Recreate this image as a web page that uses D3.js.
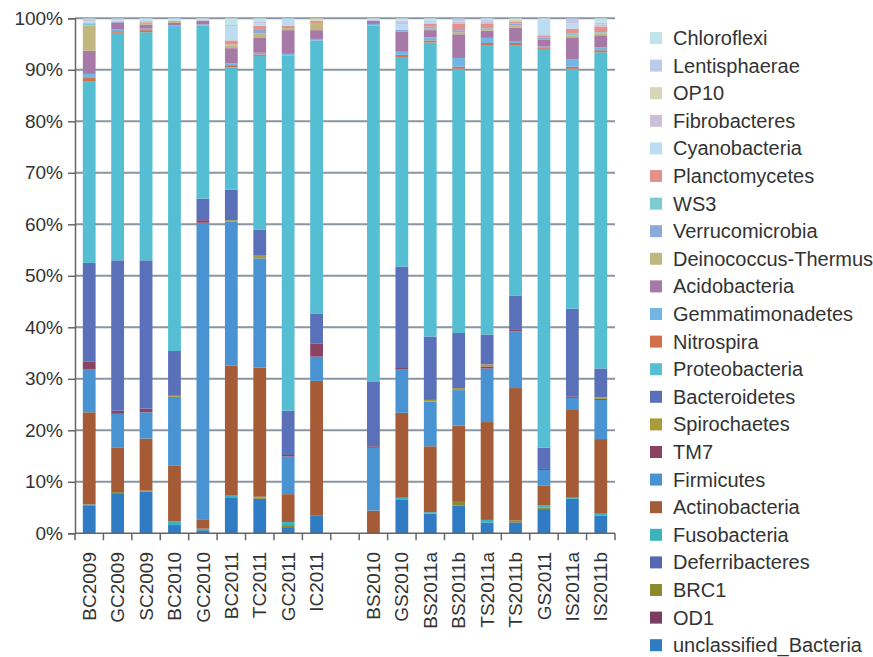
<!DOCTYPE html>
<html>
<head>
<meta charset="utf-8">
<script src="https://cdnjs.cloudflare.com/ajax/libs/d3/7.8.5/d3.min.js"></script>
<style>
body { margin: 0; background: #fff; }
text { font-family: Arial, "Liberation Sans", sans-serif; fill: #333; }
</style>
</head>
<body>
<div id="chart"></div>
<script>
var width = 873, height = 657;

// samples, two groups with an empty slot between them
var coastSamples = ["BC2009", "GC2009", "SC2009", "BC2010", "GC2010", "BC2011", "TC2011", "GC2011", "IC2011"];
var sedSamples = ["BS2010", "GS2010", "BS2011a", "BS2011b", "TS2011a", "TS2011b", "GS2011", "IS2011a", "IS2011b"];
var samples = coastSamples.concat(sedSamples);
var slots = coastSamples.concat([""], sedSamples);

var yTicks = [0, 0.1, 0.2, 0.3, 0.4, 0.5, 0.6, 0.7, 0.8, 0.9, 1];

// phyla, stacked bottom -> top
var phyla = ["unclassified_Bacteria", "OD1", "BRC1", "Deferribacteres", "Fusobacteria", "Actinobacteria",
  "Firmicutes", "TM7", "Spirochaetes", "Bacteroidetes", "Proteobacteria", "Nitrospira", "Gemmatimonadetes",
  "Acidobacteria", "Deinococcus-Thermus", "Verrucomicrobia", "WS3", "Planctomycetes", "Cyanobacteria",
  "Fibrobacteres", "OP10", "Lentisphaerae", "Chloroflexi"];
var colors = ["#2f7bc4", "#7a3b5c", "#8c8a2e", "#5468b4", "#3ab3bf", "#a55b36",
  "#4a93d3", "#8b4363", "#a99a3a", "#5a70b8", "#55bed2", "#d2704a", "#72b6e6",
  "#a779a6", "#bfb77f", "#8fa8dc", "#7ccbd3", "#e2928a", "#bcdcf2",
  "#cdbfd9", "#d8d6b8", "#bccbea", "#c0e4e8"];

// relative abundance (%) per sample
var unclassified = [5.3, 7.8, 8.1, 1.6, 0.6, 7.0, 6.7, 1.2, 3.4, 0, 6.6, 3.8, 5.4, 2.1, 2.1, 4.7, 6.7, 3.4];
var od1 = [0, 0, 0, 0, 0, 0, 0, 0, 0, 0, 0, 0, 0, 0, 0, 0, 0, 0];
var brc1 = [0, 0.2, 0.2, 0, 0, 0, 0.2, 0.4, 0, 0, 0, 0, 0.7, 0, 0.4, 0.3, 0, 0];
var deferribacteres = [0, 0, 0, 0, 0, 0, 0, 0, 0, 0, 0, 0, 0, 0, 0, 0, 0, 0];
var fusobacteria = [0.3, 0, 0, 0.7, 0.3, 0.3, 0.2, 0.6, 0, 0, 0.3, 0.3, 0, 0.5, 0, 0.4, 0.2, 0.4];
var actinobacteria = [17.9, 8.7, 10.1, 10.8, 1.7, 25.3, 25.1, 5.4, 26.2, 4.4, 16.5, 12.8, 14.8, 19.0, 25.7, 3.9, 17.2, 14.5];
var firmicutes = [8.3, 6.5, 5.1, 13.4, 57.7, 27.9, 21.2, 7.3, 4.7, 12.2, 8.4, 8.7, 6.9, 10.4, 11.0, 3.0, 2.2, 7.6];
var tm7 = [1.5, 0.6, 0.7, 0, 0.5, 0, 0, 0.3, 2.5, 0.3, 0.3, 0, 0, 0.4, 0.3, 0.2, 0.3, 0.2];
var spirochaetes = [0, 0, 0, 0.2, 0, 0.3, 0.5, 0, 0, 0, 0, 0.3, 0.4, 0.4, 0, 0, 0, 0.3];
var bacteroidetes = [19.2, 29.2, 28.8, 8.7, 4.2, 5.9, 5.1, 8.6, 5.8, 12.6, 19.7, 12.3, 10.7, 5.8, 6.6, 4.1, 17.0, 5.6];
var proteobacteria = [35.2, 44.2, 44.3, 62.9, 33.6, 23.8, 33.7, 69.0, 53.1, 69.1, 40.7, 57.1, 51.3, 56.2, 48.7, 77.3, 46.6, 61.4];
var nitrospira = [0.7, 0.3, 0.4, 0, 0, 0.4, 0.3, 0, 0, 0, 0.4, 0.4, 0.4, 0.4, 0.4, 0.3, 0.4, 0.4];
var gemmatimonadetes = [0.8, 0.3, 0.3, 0.3, 0.2, 0.4, 0.3, 0.3, 0.3, 0.3, 0.6, 0.6, 1.7, 1.0, 0.4, 0.3, 1.4, 0.6];
var acidobacteria = [4.5, 1.4, 0.8, 0.5, 0.7, 2.9, 3.0, 4.6, 1.7, 0.6, 3.9, 1.4, 4.6, 1.4, 2.6, 1.4, 4.3, 2.3];
var deinococcus = [4.8, 0, 0.4, 0.4, 0, 0.5, 0.8, 0.4, 1.4, 0, 0, 0.3, 0.4, 0.4, 0.4, 0, 0.4, 0.3];
var verrucomicrobia = [0.1, 0.2, 0, 0, 0, 0, 0.8, 0, 0, 0, 0.4, 0.4, 0.4, 0.3, 0.4, 0.4, 0, 0];
var ws3 = [0.4, 0, 0, 0, 0, 0.2, 0, 0, 0, 0, 0, 0, 0, 0, 0, 0, 0.3, 0.3];
var planctomycetes = [0.1, 0, 0.2, 0, 0, 0.8, 0.6, 0.4, 0.4, 0, 0, 0.6, 1.2, 0.6, 0.4, 0.4, 1.0, 1.1];
var cyanobacteria = [0.4, 0.2, 0.3, 0.2, 0, 2.8, 0.5, 1.5, 0, 0, 1.1, 0.3, 0, 0, 0, 3.0, 1.0, 0];
var fibrobacteres = [0.3, 0.2, 0, 0, 0.2, 0.2, 0.4, 0, 0, 0.2, 0.4, 0, 0.5, 0.5, 0, 0, 0.3, 0.4];
var op10 = [0, 0, 0, 0, 0, 0, 0, 0, 0.5, 0, 0, 0, 0, 0, 0.3, 0, 0, 0];
var lentisphaerae = [0.1, 0.2, 0, 0, 0, 0, 0, 0, 0, 0, 0.3, 0.3, 0.6, 0.3, 0, 0, 0.7, 0.4];
var chloroflexi = [0.1, 0, 0.3, 0.3, 0.3, 1.3, 0.6, 0, 0, 0.3, 0.4, 0.4, 0, 0.3, 0.3, 0.3, 0, 0.8];

var seriesValues = [unclassified, od1, brc1, deferribacteres, fusobacteria, actinobacteria,
  firmicutes, tm7, spirochaetes, bacteroidetes, proteobacteria, nitrospira, gemmatimonadetes,
  acidobacteria, deinococcus, verrucomicrobia, ws3, planctomycetes, cyanobacteria,
  fibrobacteres, op10, lentisphaerae, chloroflexi];

var table = samples.map(function(s, i) {
  var row = { sample: s };
  phyla.forEach(function(p, j) { row[p] = seriesValues[j][i]; });
  return row;
});

var svg = d3.select("#chart").append("svg")
  .attr("width", width)
  .attr("height", height);

var x = d3.scaleBand().domain(slots).range([75, 615]).padding(0);
var y = d3.scaleLinear().domain([0, 1]).range([533.3, 18.3]);
var color = d3.scaleOrdinal().domain(phyla).range(colors);
var barW = x.bandwidth() * 0.45;

// gridlines
svg.append("g").selectAll("line")
  .data(yTicks.slice(1)).enter().append("line")
  .attr("x1", 75).attr("x2", 615)
  .attr("y1", function(d) { return y(d); })
  .attr("y2", function(d) { return y(d); })
  .attr("stroke", "#8a96a2")
  .attr("stroke-width", 2);

var stacked = d3.stack().keys(phyla).offset(d3.stackOffsetExpand)(table);

svg.append("g").selectAll("g")
  .data(stacked).enter().append("g")
  .attr("fill", function(d) { return color(d.key); })
  .selectAll("rect")
  .data(function(d) { return d; }).enter().append("rect")
  .attr("x", function(d) { return x(d.data.sample) + (x.bandwidth() - barW) / 2; })
  .attr("width", barW)
  .attr("y", function(d) { return y(d[1]); })
  .attr("height", function(d) { return Math.max(0, y(d[0]) - y(d[1])); });

// y axis
var yAxis = svg.append("g")
  .attr("transform", "translate(75,0)")
  .call(d3.axisLeft(y).tickValues(yTicks).tickFormat(d3.format(".0%")).tickSize(7).tickPadding(5));
yAxis.select(".domain").attr("stroke", "#666").attr("stroke-width", 1.5);
yAxis.selectAll(".tick line").attr("stroke", "#666").attr("stroke-width", 1.5);
yAxis.selectAll("text").attr("font-size", "19px").attr("fill", "#333");

// x axis: ticks between categories
var xg = svg.append("g");
xg.append("line")
  .attr("x1", 75).attr("x2", 615)
  .attr("y1", y(0)).attr("y2", y(0))
  .attr("stroke", "#666").attr("stroke-width", 1.5);
xg.selectAll(".xtick")
  .data(d3.range(slots.length + 1)).enter().append("line")
  .attr("class", "xtick")
  .attr("x1", function(i) { return x.range()[0] + i * x.step(); })
  .attr("x2", function(i) { return x.range()[0] + i * x.step(); })
  .attr("y1", y(0)).attr("y2", y(0) + 7)
  .attr("stroke", "#666").attr("stroke-width", 1.5);
xg.selectAll(".xlab")
  .data(samples).enter().append("text")
  .attr("class", "xlab")
  .attr("transform", function(d) {
    return "translate(" + (x(d) + x.bandwidth() / 2) + "," + 552 + ") rotate(-90)";
  })
  .attr("text-anchor", "end")
  .attr("dy", "0.35em")
  .attr("font-size", "19px")
  .text(function(d) { return d; });

// legend, top entry is the top of the stack
var legend = svg.append("g").selectAll("g")
  .data(phyla.slice().reverse()).enter().append("g")
  .attr("transform", function(d, i) { return "translate(650," + (38 + i * 27.6) + ")"; });
legend.append("rect")
  .attr("x", 0).attr("y", -6)
  .attr("width", 12).attr("height", 12)
  .attr("fill", function(d) { return color(d); });
legend.append("text")
  .attr("x", 23).attr("dy", "0.35em")
  .attr("font-size", "20px")
  .text(function(d) { return d; });
</script>
</body>
</html>
